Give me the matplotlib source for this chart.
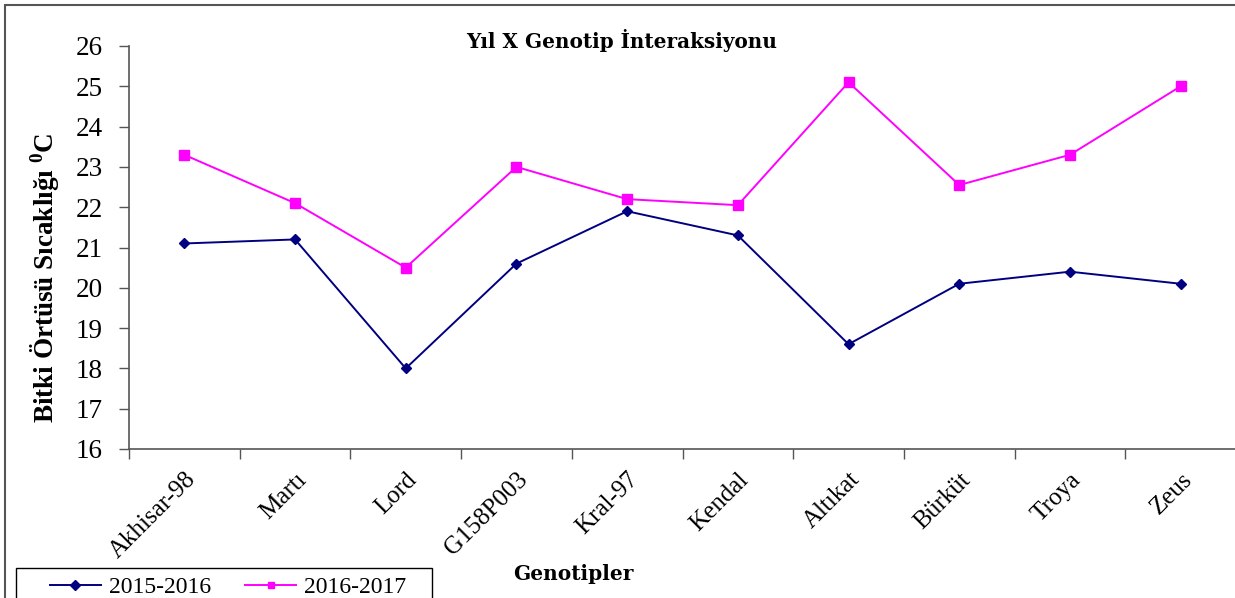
import matplotlib
matplotlib.use("Agg")
import matplotlib.pyplot as plt
from matplotlib.patches import Rectangle

genotypes = ["Akhisar-98", "Martı", "Lord", "G158P003", "Kral-97", "Kendal",
             "Altıkat", "Bürküt", "Troya", "Zeus"]
s2015 = [21.1, 21.2, 18.0, 20.6, 21.9, 21.3, 18.6, 20.1, 20.4, 20.1]
s2016 = [23.3, 22.1, 20.5, 23.0, 22.2, 22.05, 25.1, 22.55, 23.3, 25.0]
yticks = list(range(16, 27))

plt.rcParams['font.family'] = ['Liberation Serif', 'DejaVu Serif']
plt.rcParams['mathtext.fontset'] = 'custom'
plt.rcParams['mathtext.rm'] = 'Liberation Serif'
plt.rcParams['mathtext.bf'] = 'Liberation Serif:bold'

W, H = 1235, 598
fig = plt.figure(figsize=(W / 100, H / 100), dpi=100)
ax = fig.add_axes([129 / W, 1 - 449 / H, (1236 - 129) / W, (449 - 46) / H])

x = [i + 0.5 for i in range(len(genotypes))]
ax.plot(x, s2015, color='#000080', marker='D', markersize=5, lw=1.4, label='2015-2016')
ax.plot(x, s2016, color='#FF00FF', marker='s', markersize=7, lw=1.4, label='2016-2017')

ax.set_xlim(0, len(genotypes))
ax.set_ylim(16, 26)
ax.set_yticks(yticks)
ax.tick_params(axis='y', labelsize=19.5, length=7, width=1, color='#555555', pad=12)
ax.set_xticks(range(len(genotypes) + 1))
ax.set_xticklabels([])
ax.set_xticks(x, minor=True)
ax.set_xticklabels(genotypes, minor=True, rotation=45, ha='right',
                   rotation_mode='anchor', fontsize=18)
ax.tick_params(axis='x', which='major', length=7, width=1, color='#555555')
ax.tick_params(axis='x', which='minor', length=0, pad=14)

for side in ('top', 'right'):
    ax.spines[side].set_visible(False)
for side in ('left', 'bottom'):
    ax.spines[side].set_color('#555555')
    ax.spines[side].set_linewidth(1.2)

fig.text(622 / W, 1 - 40 / H, "Yıl X Genotip İnteraksiyonu", ha='center', va='center',
         fontsize=14.4, fontweight='bold', family='DejaVu Serif')
fig.text(45 / W, 1 - 278 / H, r"Bitki Örtüsü Sıcaklığı $^{\mathbf{0}}$C", rotation=90,
         ha='center', va='center', fontsize=19.5, fontweight='bold')
fig.text(573 / W, 1 - 574 / H, "Genotipler", ha='center', va='center',
         fontsize=14.5, fontweight='bold', family='DejaVu Serif')

leg = fig.legend(loc='center left', bbox_to_anchor=(50 / W, 1 - 587 / H), ncol=2,
                 fontsize=17, frameon=False, borderpad=0, handlelength=2.15,
                 columnspacing=1.45, handletextpad=0.35, borderaxespad=0)
for h in leg.legend_handles:
    h.set_markersize(5)

fig.patches.append(Rectangle((16 / W, -0.1), (432 - 16) / W, (1 - 568 / H) + 0.1,
                             transform=fig.transFigure, fill=False,
                             edgecolor='black', linewidth=1.0))
fig.patches.append(Rectangle((5 / W, -0.1), 1.2, 1 - 5 / H + 0.1, transform=fig.transFigure,
                             fill=False, edgecolor='#555555', linewidth=1.5))

fig.savefig("out.png", dpi=100)
